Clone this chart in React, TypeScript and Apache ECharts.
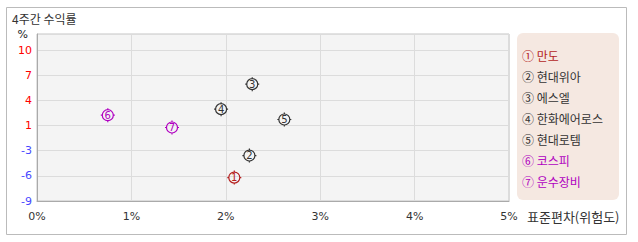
import React, { useEffect, useRef } from "react";
import * as echarts from "echarts";

const names = ["만도", "현대위아", "에스엘", "한화에어로스", "현대로템", "코스피", "운수장비"];
const marks = ["①", "②", "③", "④", "⑤", "⑥", "⑦"];
const digits = ["1", "2", "3", "4", "5", "6", "7"];
const risk = [2.09, 2.25, 2.28, 1.95, 2.62, 0.75, 1.43];
const returns = [-6.05, -3.28, 5.71, 2.56, 1.26, 1.8, 0.25];
const colors = ["#b41e1e", "#333333", "#333333", "#333333", "#333333", "#b000c0", "#b000c0"];
const yMin = -9;
const yTop = 10;
const ySteps = 6;
const yMax = 12.02;
const xTicks = [0, 1, 2, 3, 4, 5];

const FONT = "'Noto Sans CJK KR', 'DejaVu Sans', sans-serif";
const MARK_PATH =
  "path://M7,1.5 A5.5,5.5 0 1 1 7,12.5 A5.5,5.5 0 1 1 7,1.5 Z M7,0 L7,1.5 M7,12.5 L7,14 M0,7 L1.5,7 M12.5,7 L14,7";

export default function App() {
  const ref = useRef<HTMLDivElement>(null);
  useEffect(() => {
    if (!ref.current) return;
    const chart = echarts.init(ref.current, null, { renderer: "svg" });
    const yInterval = (yTop - yMin) / ySteps;
    const series = names.map((n, i) => ({
      type: "scatter",
      name: marks[i] + n,
      data: [[risk[i], returns[i]]],
      symbol: MARK_PATH,
      symbolSize: 14,
      itemStyle: { color: "rgba(0,0,0,0)", borderColor: colors[i], borderWidth: 1.2, opacity: 1 },
      label: {
        show: true,
        position: "inside",
        formatter: digits[i],
        color: colors[i],
        fontSize: 10,
        fontFamily: "'DejaVu Sans', sans-serif",
      },
      emphasis: { disabled: true },
    }));
    chart.setOption({
      animation: false,
      textStyle: { fontFamily: FONT },
      title: {
        text: "4주간 수익률",
        left: 12,
        top: 12,
        padding: 0,
        textStyle: { fontSize: 12, fontWeight: "normal", color: "#333", fontFamily: FONT },
      },
      graphic: [
        {
          type: "rect",
          shape: { x: 6.5, y: 7.5, width: 620, height: 227 },
          style: { fill: "none", stroke: "#bbbbbb", lineWidth: 1 },
          z: -10,
        },
        {
          type: "rect",
          shape: { x: 517, y: 33, width: 102, height: 167, r: 6 },
          style: { fill: "#f5e8e1" },
          z: -5,
        },
      ],
      legend: {
        orient: "vertical",
        left: 517,
        top: 48,
        padding: 0,
        icon: "none",
        itemWidth: 0,
        itemHeight: 14,
        itemGap: 8.1,
        selectedMode: false,
        formatter: (name: string) => name.slice(0, 1) + " " + name.slice(1),
        textStyle: { fontSize: 12, fontFamily: FONT },
        data: names.map((n, i) => ({
          name: marks[i] + n,
          textStyle: { color: colors[i], fontSize: 12, fontFamily: FONT },
        })),
      },
      grid: {
        left: 37,
        top: 34,
        right: 129,
        bottom: 41,
        show: true,
        backgroundColor: "#f4f4f4",
        borderColor: "#c4c4c4",
        borderWidth: 1,
      },
      xAxis: {
        type: "value",
        min: xTicks[0],
        max: xTicks[xTicks.length - 1],
        interval: 1,
        name: "표준편차(위험도)",
        nameLocation: "end",
        nameGap: 18,
        nameTextStyle: {
          fontSize: 13,
          color: "#333",
          fontFamily: FONT,
          verticalAlign: "top",
          padding: [9, 0, 0, 0],
        },
        axisLine: { show: true, onZero: false, lineStyle: { color: "#aaaaaa" } },
        axisTick: { show: false },
        splitLine: { show: true, lineStyle: { color: "#dcdcdc" } },
        axisLabel: {
          margin: 10,
          fontSize: 11,
          color: "#333",
          fontFamily: "'DejaVu Sans', sans-serif",
          formatter: (v: number) => `${Math.round(v)}%`,
        },
      },
      yAxis: {
        type: "value",
        min: yMin,
        max: yMax,
        interval: yInterval,
        axisLine: { show: true, onZero: false, lineStyle: { color: "#aaaaaa" } },
        axisTick: { show: false },
        splitLine: { show: true, lineStyle: { color: "#dcdcdc" } },
        axisLabel: {
          margin: 5,
          fontSize: 11,
          showMaxLabel: true,
          showMinLabel: true,
          fontFamily: "'DejaVu Sans', sans-serif",
          formatter: (v: number) => {
            if (v > yTop + 0.5) return "{k|%}";
            const r = Math.round(v + 1e-9);
            return v > 0 ? `{r|${r}}` : `{b|${r}}`;
          },
          rich: {
            k: { color: "#222", fontSize: 11, padding: [0, 4, 0, 0] },
            r: { color: "#ff0000", fontSize: 11 },
            b: { color: "#4848ff", fontSize: 11 },
          },
        },
      },
      series,
    });
    return () => chart.dispose();
  }, []);
  return (
    <div
      ref={ref}
      style={{ position: "absolute", left: 0, top: 0, width: 638, height: 242, background: "#fff" }}
    />
  );
}
